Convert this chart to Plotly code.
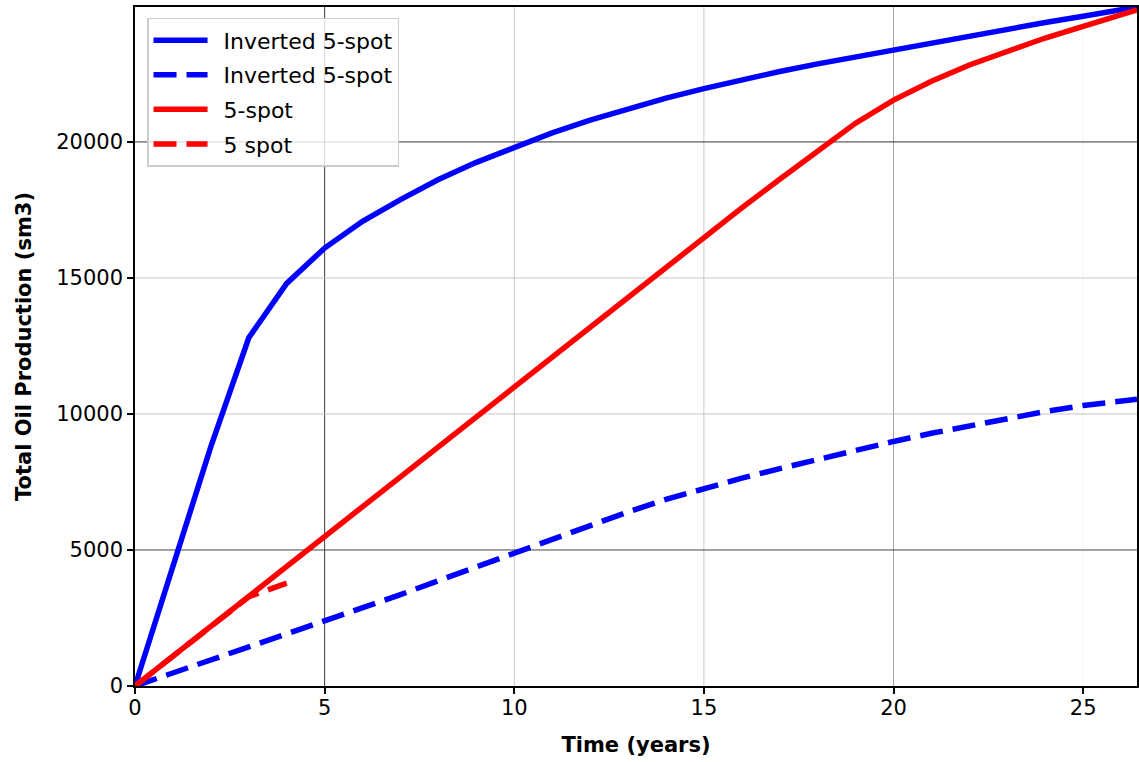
import plotly.graph_objects as go

# Time axis (years)
years = [0, 1, 2, 3, 4, 5, 6, 7, 8, 9, 10, 11, 12, 13, 14, 15, 16, 17, 18, 19,
         20, 21, 22, 23, 24, 25, 26, 26.42]

# Cumulative oil production (sm3)
inverted_solid = [0, 4400, 8800, 12800, 14800, 16100, 17080, 17880, 18620, 19250,
                  19800, 20330, 20800, 21220, 21610, 21960, 22290, 22590, 22870, 23130,
                  23400, 23660, 23910, 24150, 24390, 24620, 24850, 24960]
inverted_dashed = [0, 475, 950, 1420, 1890, 2370, 2860, 3360, 3870, 4380,
                   4900, 5410, 5910, 6400, 6860, 7270, 7640, 7990, 8330, 8660,
                   8990, 9290, 9570, 9840, 10090, 10310, 10480, 10540]
five_spot_solid = [0, 1090, 2185, 3280, 4385, 5490, 6590, 7690, 8790, 9895,
                   11000, 12105, 13210, 14310, 15415, 16520, 17575, 18630, 19680, 20690,
                   21540, 22230, 22830, 23350, 23820, 24250, 24680, 24850]
years_short = [0, 1, 2, 3, 4]
five_spot_dashed = [0, 1090, 2185, 3280, 3780]

x_ticks = [0, 5, 10, 15, 20, 25]
y_ticks = [0, 5000, 10000, 15000, 20000]

# grid line shades per tick value
x_grid = {5: "#3c3c3c", 10: "#c8c8c8", 15: "#c8c8c8", 20: "#a0a0a0", 25: "#f4f4f4"}
y_grid = {5000: "#444444", 10000: "#c4c4c4", 15000: "#c8c8c8", 20000: "#333333"}

FONT = "DejaVu Sans"
LW = 5.5
DASH = "23px,10px"
GAP = "\u2002"  # spacing between legend symbol and label

fig = go.Figure()
series = [
    (years, inverted_solid, "Inverted 5-spot", "#0000ff", "solid"),
    (years, inverted_dashed, "Inverted 5-spot", "#0000ff", DASH),
    (years, five_spot_solid, "5-spot", "#ff0000", "solid"),
    (years_short, five_spot_dashed, "5 spot", "#ff0000", DASH),
]
for i, (xs, ys, name, color, dash) in enumerate(series):
    fig.add_trace(go.Scatter(
        x=xs, y=ys, mode="lines", name=GAP + name, legendgroup=f"g{i}",
        line=dict(color=color, width=LW, dash=dash),
    ))

shapes = []
for v, c in x_grid.items():
    shapes.append(dict(type="line", xref="x", yref="paper", x0=v, x1=v, y0=0, y1=1,
                       line=dict(color=c, width=1), layer="below"))
for v, c in y_grid.items():
    shapes.append(dict(type="line", xref="paper", yref="y", x0=0, x1=1, y0=v, y1=v,
                       line=dict(color=c, width=1), layer="below"))

fig.update_layout(
    width=1139, height=762, autosize=False,
    margin=dict(l=135, r=0, t=7, b=76),
    paper_bgcolor="white", plot_bgcolor="white",
    font=dict(family=FONT, size=21, color="black"),
    shapes=shapes,
    showlegend=True,
    legend=dict(
        x=0.012, y=0.984, xanchor="left", yanchor="top",
        bgcolor="rgba(255,255,255,0.8)", bordercolor="#cccccc", borderwidth=1.5,
        font=dict(family=FONT, size=22, color="black"),
        tracegroupgap=3, itemwidth=54,
    ),
    xaxis=dict(
        range=[0, years[-1]], tickvals=x_ticks, tickformat="d",
        showgrid=False, zeroline=False,
        showline=True, linecolor="black", linewidth=1.5, mirror=True,
        ticks="outside", ticklen=6, tickwidth=1.5, tickcolor="black",
        tickfont=dict(family=FONT, size=21), ticklabelstandoff=-4,
        title=dict(text="<b>Time (years)</b>", font=dict(family=FONT, size=21), standoff=18),
    ),
    yaxis=dict(
        range=[0, max(inverted_solid)], tickvals=y_ticks, tickformat="d",
        showgrid=False, zeroline=False,
        showline=True, linecolor="black", linewidth=1.5, mirror=True,
        ticks="outside", ticklen=6, tickwidth=1.5, tickcolor="black",
        tickfont=dict(family=FONT, size=21),
        title=dict(text="<b>Total Oil Production (sm3)</b>", font=dict(family=FONT, size=21),
                   standoff=19),
    ),
)

fig.write_html("out.html")
